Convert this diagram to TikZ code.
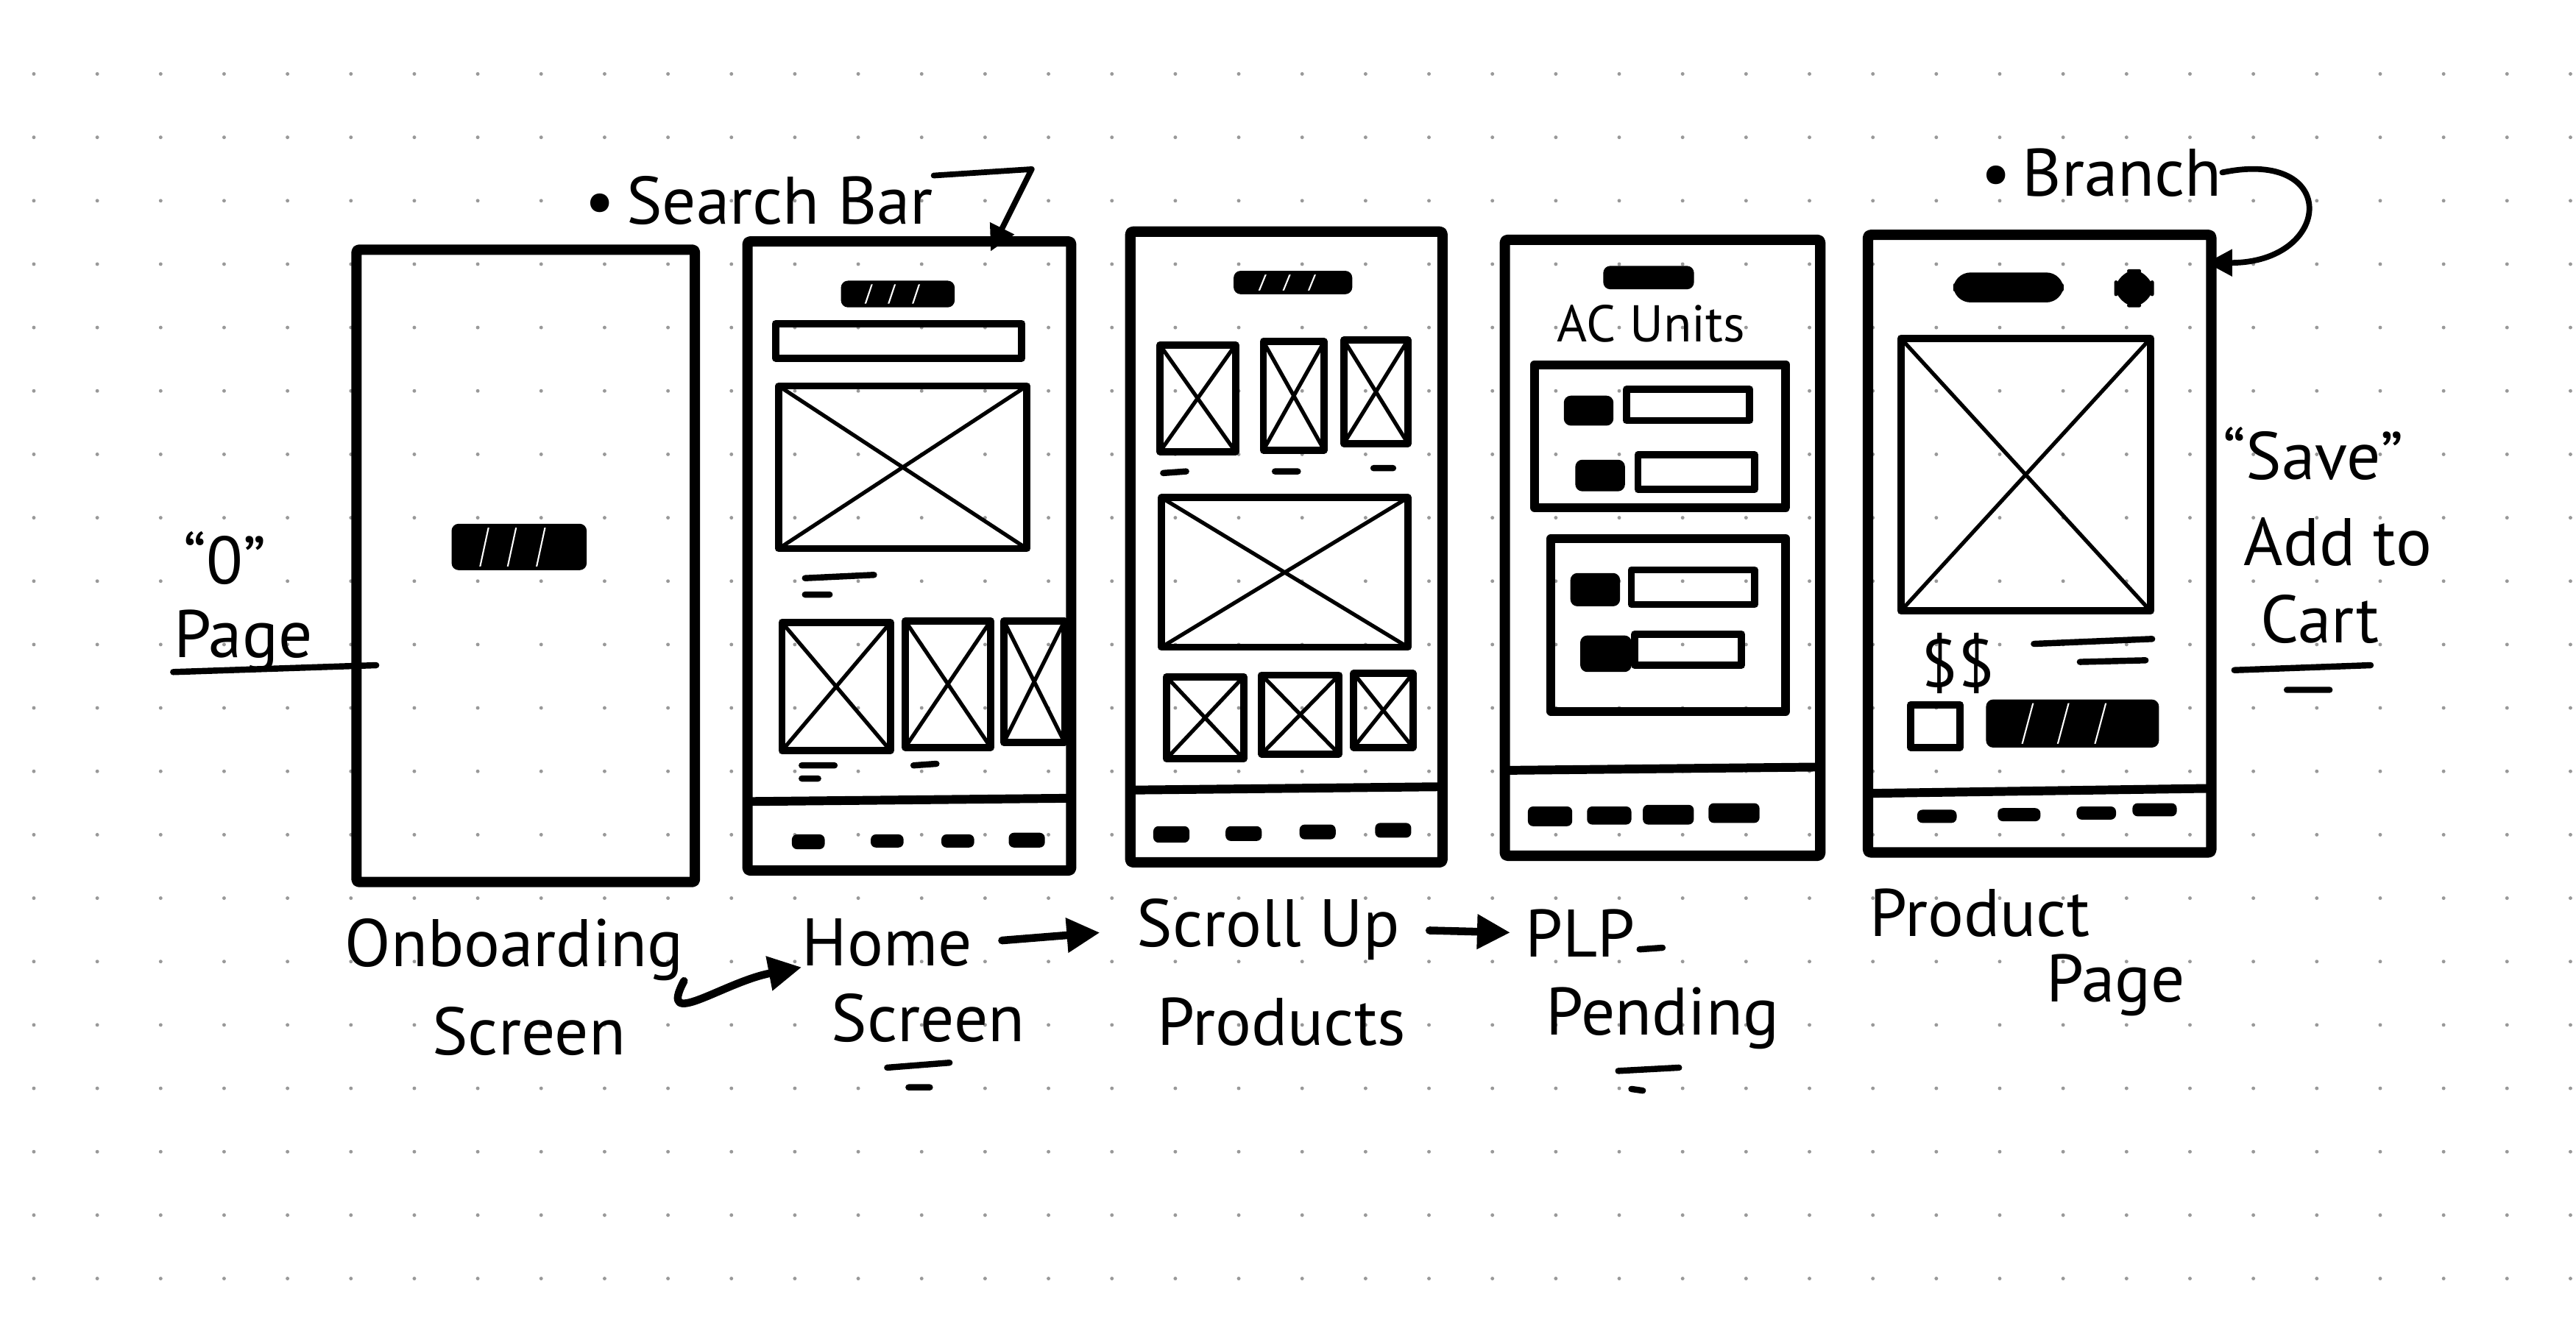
\documentclass[tikz,border=0pt]{standalone}
\usepackage{fontspec}
\setmainfont{PT Sans}
\usetikzlibrary{arrows.meta, fit, calc}

\begin{document}
\begin{tikzpicture}[
    x=0.2232mm, y=-0.2232mm,
    line cap=round, line join=round,
    screen/.style={draw, line width=4pt, inner sep=0pt, rounded corners=1pt},
    imgbox/.style={draw, line width=2.8pt, path picture={\draw[line width=1.5pt] (path picture bounding box.north west) -- (path picture bounding box.south east) (path picture bounding box.south west) -- (path picture bounding box.north east);}},
    field/.style={draw, line width=2.8pt},
    card/.style={draw, line width=3.4pt},
    bar/.style={draw, fill=black, line width=1.4pt, rounded corners=2pt},
    hatch/.style={bar, path picture={\foreach \t/\u in {0.2/0.27, 0.41/0.48, 0.63/0.7} \draw[white, line width=0.6pt] ($(path picture bounding box.south west)!\t!(path picture bounding box.south east)$) -- ($(path picture bounding box.north west)!\u!(path picture bounding box.north east)$);}},
    navicon/.style={fill=black, rounded corners=2pt},
    pen/.style={line width=2.4pt},
    flow/.style={-{Triangle[length=4.5mm, width=4.5mm]}, line width=3pt},
    pointer/.style={-{Triangle[length=3.5mm, width=3.5mm]}, line width=2.2pt},
    hand/.style={font=\fontsize{26}{30}\selectfont, inner sep=0pt},
    note/.style={font=\fontsize{20}{24}\selectfont, inner sep=0pt}
]
\useasboundingbox[fill=white] (0,0) rectangle (1568,814);

% papel pontilhado
\foreach \i in {0,...,40}
  \foreach \j in {0,...,19}
    \fill[black!40] (20.6+38.6*\i, 45+38.6*\j) circle (0.7pt);

% Telas
\node[screen, fit={(217,152) (423,537)}] (onb) {};
\node[screen, fit={(455,147) (652,530)}] (home) {};
\node[screen, fit={(688,141) (878,525)}] (scroll) {};
\node[screen, fit={(916,146) (1108,521)}] (plp) {};
\node[screen, fit={(1137,143) (1346,519)}] (prod) {};

% Onboarding
\draw[hatch] (276,320) rectangle (356,346);

% Home
\draw[hatch] (513,172) rectangle (580,186);
\draw[field] (472,197) rectangle (622,218);
\draw[imgbox] (474,235) rectangle (625,334);
\draw[pen] (490,352) -- (532,350) (490,362) -- (505,362);
\draw[imgbox] (476,379) rectangle (542,457);
\draw[imgbox] (551,378) rectangle (603,455);
\draw[imgbox] (611,378) rectangle (648,452);
\draw[pen] (488,466) -- (508,466) (488,474) -- (498,474) (556,466) -- (570,465);
\draw[line width=3.4pt] (456,488) -- (650,486);
\fill[navicon] (482,508) rectangle (502,517);
\fill[navicon] (530,508) rectangle (550,516);
\fill[navicon] (573,508) rectangle (593,516);
\fill[navicon] (614,507) rectangle (636,516);

% Scroll up
\draw[hatch] (752,166) rectangle (822,178);
\draw[imgbox] (706,210) rectangle (752,275);
\draw[imgbox] (769,208) rectangle (806,274);
\draw[imgbox] (818,207) rectangle (857,270);
\draw[pen] (708,288) -- (722,287) (776,287) -- (790,287) (836,285) -- (848,285);
\draw[imgbox] (707,303) rectangle (857,394);
\draw[imgbox] (710,412) rectangle (757,462);
\draw[imgbox] (768,411) rectangle (815,459);
\draw[imgbox] (824,410) rectangle (860,455);
\draw[line width=3.4pt] (690,481) -- (876,479);
\fill[navicon] (702,503) rectangle (724,513);
\fill[navicon] (746,503) rectangle (768,512);
\fill[navicon] (791,502) rectangle (813,511);
\fill[navicon] (837,501) rectangle (859,510);

% PLP
\draw[bar] (977,163) rectangle (1030,175);
\node[note] (acunits) at (1005,197) {AC Units};
\draw[card] (934,222) rectangle (1087,309);
\draw[bar] (953,242) rectangle (981,258);
\draw[field] (990,237) rectangle (1065,256);
\draw[bar] (960,281) rectangle (988,298);
\draw[field] (997,277) rectangle (1068,298);
\draw[card] (944,328) rectangle (1087,433);
\draw[bar] (957,350) rectangle (985,368);
\draw[field] (993,347) rectangle (1068,368);
\draw[bar] (963,388) rectangle (992,408);
\draw[field] (995,386) rectangle (1060,405);
\draw[line width=3.4pt] (918,469) -- (1107,467);
\fill[navicon] (930,491) rectangle (957,503);
\fill[navicon] (966,491) rectangle (993,502);
\fill[navicon] (1000,490) rectangle (1031,502);
\fill[navicon] (1040,489) rectangle (1071,501);

% Produto
\draw[bar, rounded corners=6pt] (1190,167) rectangle (1255,183);
\draw[bar, rounded corners=9pt] (1288,165) rectangle (1310,186);
\draw[imgbox] (1157,206) rectangle (1309,372);
\node[hand] (price) at (1192,404) {\$\$};
\draw[pen] (1238,392) -- (1310,389) (1266,403) -- (1306,402);
\draw[field] (1163,429) rectangle (1193,455);
\draw[hatch] (1210,427) rectangle (1313,454);
\draw[line width=3.4pt] (1140,483) -- (1345,480);
\fill[navicon] (1167,493) rectangle (1191,501);
\fill[navicon] (1216,492) rectangle (1242,500);
\fill[navicon] (1264,491) rectangle (1288,499);
\fill[navicon] (1298,489) rectangle (1325,497);

% Notas
\node[hand] (lblSearch) at (462,122) {•\,Search Bar};
\coordinate (searchTip) at (603,153);
\draw[pointer] (lblSearch.north east) -- (628,103) -- (searchTip);

\node[hand] (lblBranch) at (1279,105) {•\,Branch};
\coordinate (branchTip) at (1343,160);
\draw[pointer] (lblBranch.east) .. controls (1425,90) and (1420,160) .. (branchTip);

\node[hand] (lblZero) at (137,340) {“0”};
\node[hand] (lblPage) at (148,390) {Page};
\coordinate (pageTip) at (229,405);
\draw[pen] (lblPage.south west) -- (pageTip);

\node[hand] (lblSave) at (1408,276) {“Save”};
\node[hand] (lblAdd) at (1423,330) {Add to};
\node[hand] (lblCart) at (1412,377) {Cart};
\draw[pen] (1360,408) -- (1443,405) (1392,420) -- (1418,420);

% Legendas
\node[hand] (lblOnb) at (313,578) {Onboarding};
\node[hand] (lblOnb2) at (322,628) {Screen};
\node[hand] (lblHome) at (540,574) {Home};
\node[hand] (lblHome2) at (565,620) {Screen};
\node[hand] (lblScroll) at (772,566) {Scroll Up};
\node[hand] (lblScroll2) at (780,622) {Products};
\node[hand] (lblPLP) at (962,568) {PLP};
\node[hand] (lblPLP2) at (1012,620) {Pending};
\node[hand] (lblProd) at (1205,556) {Product};
\node[hand] (lblProd2) at (1288,600) {Page};
\draw[pen] (540,650) -- (578,647) (553,662) -- (566,662);
\draw[pen] (998,578) -- (1012,577) (985,652) -- (1022,650) (993,663) -- (1000,664);

% Fluxo
\draw[flow] (lblOnb.south east) .. controls (400,628) and (440,598) .. (lblHome.south west);
\draw[flow, shorten <=4mm, shorten >=5mm] (lblHome.east) -- (lblScroll.west);
\draw[flow, shorten <=4mm, shorten >=2mm] (lblScroll.east) -- (lblPLP.west);

\end{tikzpicture}
\end{document}
